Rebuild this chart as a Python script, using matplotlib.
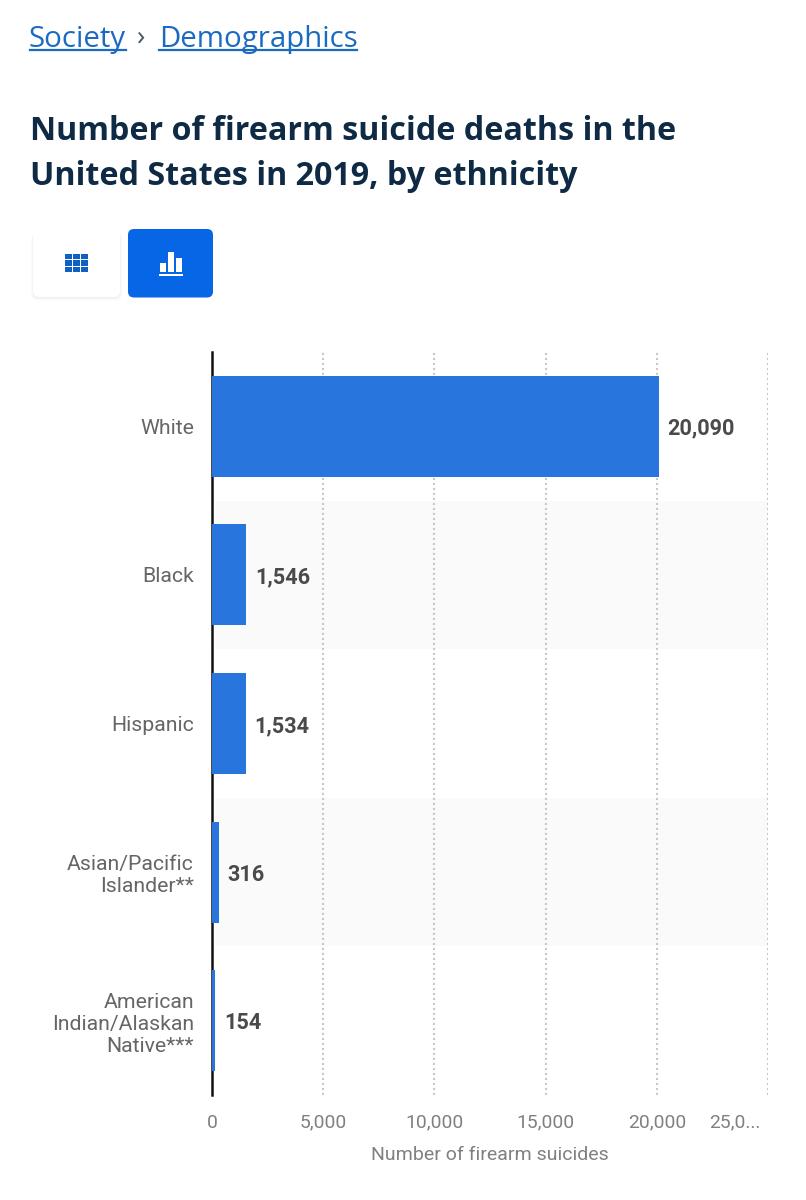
import matplotlib
matplotlib.use("Agg")
import matplotlib.pyplot as plt
from matplotlib.patches import FancyBboxPatch, Rectangle
from matplotlib.transforms import ScaledTranslation

categorias = ["White", "Black", "Hispanic", "Asian/Pacific\nIslander**", "American\nIndian/Alaskan\nNative***"]
valores = [20090, 1546, 1534, 316, 154]
etiquetas_valor = ["20,090", "1,546", "1,534", "316", "154"]
ticks_x = [0, 5000, 10000, 15000, 20000, 25000]
etiquetas_x = ["0", "5,000", "10,000", "15,000", "20,000", "25,0..."]

ANCHO, ALTO = 806, 1200
AZUL_BARRA = "#2875dd"
AZUL_LINK = "#1b6ac1"
AZUL_BOTON = "#0666e6"
TITULO = "#0f2a44"

fig = plt.figure(figsize=(ANCHO / 100, ALTO / 100), dpi=100, facecolor="white")

# --- Cabecera en coordenadas de pixel ---
top = fig.add_axes([0, 0, 1, 1])
top.set_xlim(0, ANCHO)
top.set_ylim(ALTO, 0)
top.axis("off")

top.text(29, 47, "Society", family="Open Sans", fontsize=21.2, color=AZUL_LINK, va="baseline")
top.text(137, 46, "›", family="Open Sans", fontsize=20, color="#4a5560", va="baseline")
top.text(159, 47, "Demographics", family="Open Sans", fontsize=21.2, color=AZUL_LINK, va="baseline")
top.plot([30, 126], [50, 50], color=AZUL_LINK, lw=1.6)
top.plot([159, 357], [50, 50], color=AZUL_LINK, lw=1.6)

top.text(30, 139.5, "Number of firearm suicide deaths in the", family="Open Sans", fontweight="bold",
         fontsize=23.25, color=TITULO, va="baseline")
top.text(30, 185, "United States in 2019, by ethnicity", family="Open Sans", fontweight="bold",
         fontsize=23.25, color=TITULO, va="baseline")

# botones
for i in range(5):
    top.add_patch(FancyBboxPatch((33 - i * 0.5, 231 + i * 0.6), 87 + i, 67, boxstyle="round,pad=0,rounding_size=6",
                                 fc="#000000", ec="none", alpha=0.012))
top.add_patch(FancyBboxPatch((33, 229), 87, 68, boxstyle="round,pad=0,rounding_size=6", fc="white", ec="none"))
top.add_patch(FancyBboxPatch((128, 229), 85, 68.5, boxstyle="round,pad=0,rounding_size=6", fc=AZUL_BOTON, ec="none"))
for col in range(3):
    for fila in range(3):
        top.add_patch(Rectangle((64.5 + col * 8.2, 253.5 + fila * 6.6), 7.2, 5.6, fc="#0f62c4", ec="none"))
top.add_patch(Rectangle((160, 263), 6, 9, fc="white", ec="none"))
top.add_patch(Rectangle((168, 252), 6, 20, fc="white", ec="none"))
top.add_patch(Rectangle((176, 258), 6, 14, fc="white", ec="none"))
top.add_patch(Rectangle((159, 274), 24, 1.8, fc="white", ec="none"))

# --- Grafico de barras ---
izq, der, arriba, abajo = 212, 768, 352, 1095
ax = fig.add_axes([izq / ANCHO, 1 - abajo / ALTO, (der - izq) / ANCHO, (abajo - arriba) / ALTO])
ax.patch.set_alpha(0)
posiciones = list(range(len(categorias)))

for p in posiciones:
    if p % 2 == 1:
        ax.axhspan(p - 0.5, p + 0.5, xmin=0.005, color="#fafafa", lw=0, zorder=0)

ax.barh(posiciones, valores, height=0.68, color=AZUL_BARRA, zorder=3)
ax.set_xlim(0, 25000)
ax.set_ylim(4.5, -0.5)

ax.grid(True, axis="x", linestyle=(0, (1, 1.4)), color="#c8c8c8", linewidth=1.5, zorder=1)
ax.set_axisbelow(True)

for s in ["top", "right", "bottom"]:
    ax.spines[s].set_visible(False)
ax.spines["left"].set_color("#111111")
ax.spines["left"].set_linewidth(1.8)

ax.set_yticks(posiciones)
ax.set_yticklabels(categorias, family="Roboto", fontsize=15.3, color="#666666", linespacing=1.2)
ax.tick_params(axis="y", length=0, pad=13)

ax.set_xticks(ticks_x)
ax.set_xticklabels(etiquetas_x, family="Roboto", fontsize=13.9, color="#808080")
ax.tick_params(axis="x", length=0, pad=13.5)
ultima = ax.get_xticklabels()[-1]
ultima.set_ha("right")
ultima.set_transform(ultima.get_transform() + ScaledTranslation(-0.07, 0, fig.dpi_scale_trans))
ax.set_xlabel("Number of firearm suicides", family="Roboto", fontsize=14, color="#808080", labelpad=10.5)

for p, v, txt in zip(posiciones, valores, etiquetas_valor):
    ax.annotate(txt, (v, p), xytext=(6.2, -1.8), textcoords="offset points", family="Roboto", fontweight="bold",
                fontsize=15.6, color="#4a4a4a", va="center", ha="left", zorder=4)

plt.savefig("out.png", dpi=100, facecolor="white")
